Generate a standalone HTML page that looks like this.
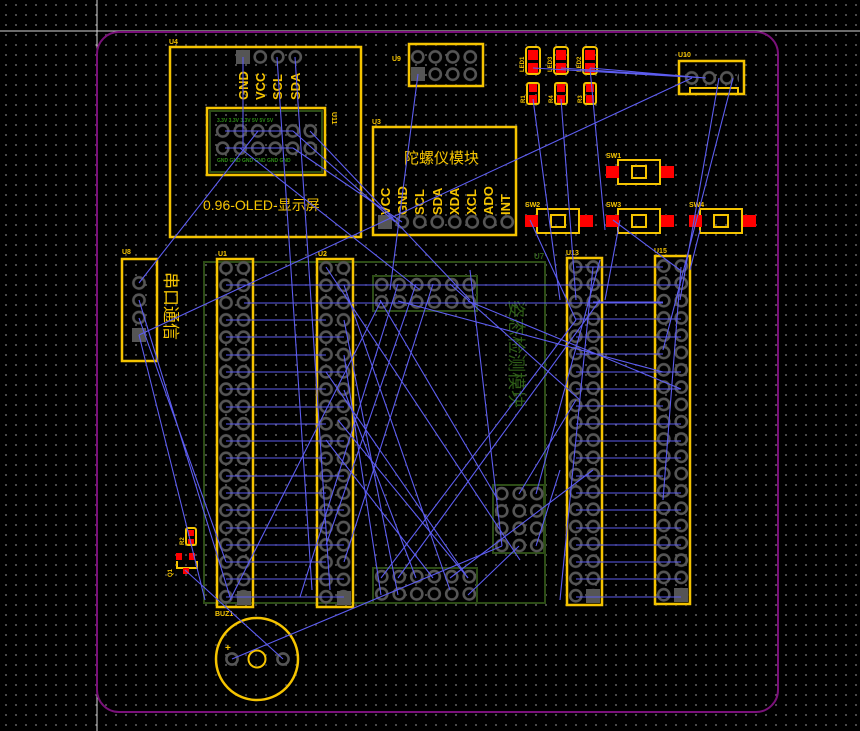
<!DOCTYPE html>
<html><head><meta charset="utf-8">
<style>
html,body{margin:0;padding:0;background:#000;}
body{width:860px;height:731px;overflow:hidden;position:relative;
background-color:#000;
background-image:radial-gradient(circle,#7a7a7a 0.7px,transparent 1.0px);
background-size:10px 10px;background-position:1px 0px;}
svg{position:absolute;left:0;top:0;}
text{font-family:"Liberation Sans","Noto Sans CJK SC",sans-serif;}
</style></head><body>
<svg width="860" height="731" viewBox="0 0 860 731">
<defs>
<pattern id="pin" patternUnits="userSpaceOnUse" width="17.5" height="17.3">
<circle cx="8.75" cy="8.65" r="5.6" fill="#000" stroke="#555" stroke-width="2.6"/>
</pattern>
</defs>
<line x1="97" y1="0" x2="97" y2="731" stroke="#d8d8d8" stroke-width="1"/>
<line x1="0" y1="31" x2="860" y2="31" stroke="#d8d8d8" stroke-width="1"/>
<rect x="97" y="32" width="681" height="680" rx="22" fill="none" stroke="#7a117a" stroke-width="2"/>

<g fill="none" stroke="#2d4d16" stroke-width="2">
<rect x="204" y="262" width="341" height="341"/>
<rect x="373" y="276" width="104" height="35"/>
<rect x="373" y="568" width="104" height="35"/>
<rect x="493" y="485" width="51" height="68"/>
</g>
<text x="534" y="259" font-size="8" fill="#2d5d16" font-weight="bold">U7</text>
<text transform="translate(510,300) rotate(90)" font-size="18" fill="#2d5d16">姿态检测模块</text>
<g transform="translate(373,276)"><rect width="105" height="35" fill="url(#pin)"/></g>
<g transform="translate(373,568)"><rect width="105" height="35" fill="url(#pin)"/></g>
<g transform="translate(493,485)"><rect width="52.5" height="69.2" fill="url(#pin)"/></g>

<g fill="none" stroke="#f5c400" stroke-width="2.5">
<rect x="217" y="259" width="36" height="348"/>
<rect x="317" y="259" width="36" height="348"/>
<rect x="567" y="258" width="35" height="347"/>
<rect x="655" y="256" width="35" height="348"/>
<rect x="122" y="259" width="35" height="102"/>
<rect x="170" y="47" width="191" height="190"/>
<rect x="207" y="108" width="118" height="67"/>
<rect x="373" y="127" width="143" height="108"/>
<rect x="409" y="44" width="74" height="42"/>
<rect x="679" y="61" width="65" height="33"/>
<rect x="690" y="88" width="48" height="6" stroke-width="2"/>
</g>
<rect x="210" y="111" width="112" height="61" fill="none" stroke="#2d4d16" stroke-width="2"/>
<g transform="translate(217.25,259.4)"><rect width="35" height="346" fill="url(#pin)"/></g>
<g transform="translate(317.25,259.4)"><rect width="35" height="346" fill="url(#pin)"/></g>
<g transform="translate(567,258.4)"><rect width="35" height="346" fill="url(#pin)"/></g>
<g transform="translate(655,257.4)"><rect width="35" height="346" fill="url(#pin)"/></g>
<g transform="translate(130.25,274.3)"><rect width="17.5" height="69.2" fill="url(#pin)"/></g>
<g transform="translate(234,48.3)"><rect width="70" height="17.3" fill="url(#pin)"/></g>
<g transform="translate(214,122.3)"><rect width="105" height="34.6" fill="url(#pin)"/></g>
<g transform="translate(376,213.3)"><rect width="140" height="17.3" fill="url(#pin)"/></g>
<g transform="translate(409,48.3)"><rect width="70" height="34.6" fill="url(#pin)"/></g>
<g transform="translate(683,69.3)"><rect width="56" height="17.3" fill="url(#pin)"/></g>
<g fill="#555">
<rect x="237" y="591" width="14" height="14"/>
<rect x="337" y="591" width="14" height="14"/>
<rect x="586" y="589" width="14" height="14"/>
<rect x="674" y="588" width="14" height="14"/>
<rect x="132" y="328" width="14" height="14"/>
<rect x="236" y="50" width="14" height="14"/>
<rect x="378" y="215" width="14" height="14"/>
<rect x="411" y="67" width="14" height="14"/>
</g>

<g fill="#f5c400" font-size="7" font-weight="bold">
<text x="218" y="256">U1</text><text x="318" y="256">U2</text>
<text x="566" y="255">U13</text><text x="654" y="253">U15</text>
<text x="122" y="254">U8</text><text x="169" y="44">U4</text>
<text x="372" y="124">U3</text><text x="392" y="61">U9</text>
<text x="678" y="57">U10</text><text x="215" y="616">BUZ1</text>
<text x="606" y="158">SW1</text><text x="525" y="207">SW2</text>
<text x="606" y="207">SW3</text><text x="689" y="207">SW4</text>
</g>
<g fill="#f5c400" font-size="6" font-weight="bold">
<text transform="translate(524,72) rotate(-90)">LED1</text>
<text transform="translate(552,72) rotate(-90)">LED3</text>
<text transform="translate(581,72) rotate(-90)">LED2</text>
<text transform="translate(525,103) rotate(-90)">R1</text>
<text transform="translate(553,103) rotate(-90)">R4</text>
<text transform="translate(582,103) rotate(-90)">R3</text>
<text transform="translate(184,545) rotate(-90)">R2</text>
<text transform="translate(172,577) rotate(-90)">Q1</text>
</g>
<text transform="translate(332,112) rotate(90)" font-size="7" font-weight="bold" fill="#f5c400">U11</text>
<g fill="#f5c400" font-size="13" font-weight="bold">
<text transform="translate(248,100) rotate(-90)">GND</text>
<text transform="translate(265,100) rotate(-90)">VCC</text>
<text transform="translate(282,100) rotate(-90)">SCL</text>
<text transform="translate(300,100) rotate(-90)">SDA</text>
<text transform="translate(390,215) rotate(-90)">VCC</text>
<text transform="translate(407,215) rotate(-90)">GND</text>
<text transform="translate(424,215) rotate(-90)">SCL</text>
<text transform="translate(442,215) rotate(-90)">SDA</text>
<text transform="translate(459,215) rotate(-90)">XDA</text>
<text transform="translate(476,215) rotate(-90)">XCL</text>
<text transform="translate(493,215) rotate(-90)">ADO</text>
<text transform="translate(510,215) rotate(-90)">INT</text>
</g>
<g fill="#2d8d16" font-size="5" font-weight="bold">
<text x="217" y="122">3.3V 3.3V 3.3V  5V   5V   5V</text>
<text x="217" y="162">GND GND GND GND GND GND</text>
</g>
<text x="404" y="163" font-size="15" fill="#f5c400" font-family="Noto Serif CJK SC,serif">陀螺仪模块</text>
<text x="203" y="210" font-size="14" fill="#f5c400" font-family="Liberation Serif,Noto Serif CJK SC,serif">0.96-OLED-显示屏</text>
<text transform="translate(165,272) rotate(90)" font-size="17" fill="#f5c400">串口通信</text>

<g fill="none" stroke="#f5c400" stroke-width="2">
<rect x="526" y="47" width="14" height="27" rx="3"/>
<rect x="554" y="47" width="14" height="27" rx="3"/>
<rect x="583" y="47" width="14" height="27" rx="3"/>
<rect x="527" y="83" width="12" height="21" rx="2"/>
<rect x="555" y="83" width="12" height="21" rx="2"/>
<rect x="584" y="83" width="12" height="21" rx="2"/>
<rect x="537" y="209" width="42" height="24"/><rect x="618" y="160" width="42" height="24"/>
<rect x="618" y="209" width="42" height="24"/><rect x="700" y="209" width="42" height="24"/>
<rect x="551" y="215" width="14" height="12"/><rect x="632" y="166" width="14" height="12"/>
<rect x="632" y="215" width="14" height="12"/><rect x="714" y="215" width="14" height="12"/>
<rect x="186" y="528" width="10" height="17" rx="2"/>
<path d="M177 561 v7 h20 v-7"/>
</g>
<g fill="#ff0000">
<rect x="528" y="50" width="10" height="10"/><rect x="528" y="63" width="10" height="10"/>
<rect x="556" y="50" width="10" height="10"/><rect x="556" y="63" width="10" height="10"/>
<rect x="585" y="50" width="10" height="10"/><rect x="585" y="63" width="10" height="10"/>
<rect x="529" y="84" width="8" height="8"/><rect x="529" y="95" width="8" height="8"/>
<rect x="557" y="84" width="8" height="8"/><rect x="557" y="95" width="8" height="8"/>
<rect x="586" y="84" width="8" height="8"/><rect x="586" y="95" width="8" height="8"/>
<rect x="606" y="166" width="13" height="12"/><rect x="661" y="166" width="13" height="12"/>
<rect x="525" y="215" width="13" height="12"/><rect x="580" y="215" width="13" height="12"/>
<rect x="606" y="215" width="13" height="12"/><rect x="661" y="215" width="13" height="12"/>
<rect x="689" y="215" width="13" height="12"/><rect x="743" y="215" width="13" height="12"/>
<rect x="188" y="530" width="6" height="6"/><rect x="188" y="539" width="6" height="5"/>
<rect x="176" y="553" width="6" height="7"/><rect x="189" y="553" width="6" height="7"/>
<rect x="183" y="568" width="6" height="6"/>
</g>

<circle cx="257" cy="659" r="41" fill="none" stroke="#f5c400" stroke-width="2.5"/>
<circle cx="257" cy="659" r="8.5" fill="none" stroke="#f5c400" stroke-width="2"/>
<circle cx="232" cy="659" r="5.6" fill="#000" stroke="#555" stroke-width="2.6"/>
<circle cx="283" cy="659" r="5.6" fill="#000" stroke="#555" stroke-width="2.6"/>
<text x="225" y="651" font-size="10" fill="#f5c400" font-weight="bold">+</text>

<g stroke="#5c5cf0" stroke-width="1.1" fill="none">
<path d="M226 285H681M244 303H663M226 320H326M226 337H344M226 355H326M226 372H344M226 389H326M226 407H344M226 424H326M226 441H344M226 458H326M226 476H344M226 493H326M226 510H344M226 528H326M226 545H344M226 562H326M226 579H344M226 597H344"/>
<path d="M576 267H663M576 285H681M593 302H663M576 319H681M576 337H681M576 354H663M576 372H681M576 389H681M576 406H663M576 424H681M576 441H681M576 458H681M576 476H663M576 493H681M576 510H681M576 528H681M576 545H681M576 562H681M576 579H681M576 597H681"/>
<path d="M243 57V148M225 131H293M225 148H293M277 57L312 590M295 57L330 590M258 131L139 283M293 131L395 222M310 131L470 300M293 148L402 222M240 148L420 290"/>
<path d="M418 74L390 290M692 78L139 335M533 68L706 78M561 68L706 78M590 68L706 78M533 99L560 300M561 99L576 300M590 68L605 230M719 78L680 300M733 78L663 350"/>
<path d="M139 300L230 597M139 318L226 562M139 335L205 600M185 570L283 659M232 659L502 546M519 546L468 595M502 546L470 270M536 546L560 470"/>
<path d="M326 267L520 560M344 285L450 590M344 320L398 595M326 372L468 578M344 355L381 595M398 284L300 597M416 284L326 545M433 284L344 562M450 284L580 400M468 301L681 389M398 301L663 372M381 301L230 600"/>
<path d="M381 578L576 320M398 578L600 300M416 578L344 390M433 578L326 440M450 578L593 470M468 578L338 420M498 500L380 300M519 494L576 400M536 494L600 260"/>
<path d="M530 220L576 320M613 220L680 270M620 220L605 300M690 270L700 230M593 267L560 600M681 267L663 500"/>
</g>
</svg>
</body></html>
